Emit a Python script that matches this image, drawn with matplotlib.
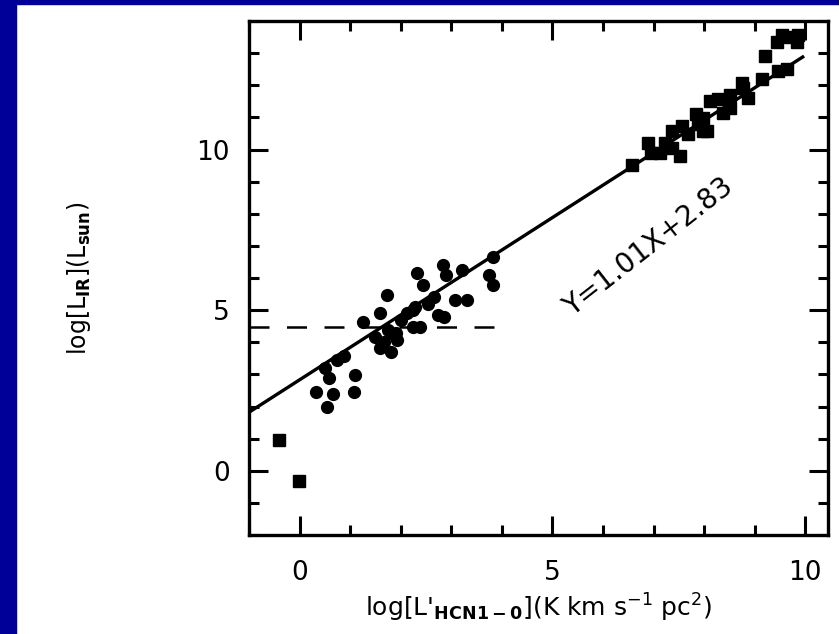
import matplotlib
matplotlib.use("Agg")
import matplotlib.pyplot as plt
from matplotlib.ticker import MultipleLocator
import numpy as np

# Data
circle_x = [0.32, 0.55, 0.67, 0.58, 0.51, 0.75, 0.87, 1.07, 1.10, 1.26, 1.60, 1.72,
            1.50, 1.60, 1.80, 1.74, 1.90, 1.93, 1.66, 2.13, 2.29, 2.33, 2.25, 2.45,
            2.83, 2.89, 3.22, 3.08, 3.32, 2.73, 2.85, 2.39, 2.53, 2.65, 2.25, 3.83,
            3.74, 3.83, 2.00, 1.80]
circle_y = [2.46, 1.97, 2.40, 2.90, 3.20, 3.45, 3.58, 2.46, 2.99, 4.63, 4.90, 5.46,
            4.17, 3.82, 3.70, 4.38, 4.28, 4.07, 4.00, 4.90, 5.10, 6.15, 4.47, 5.77,
            6.39, 6.08, 6.24, 5.31, 5.31, 4.85, 4.78, 4.47, 5.20, 5.40, 5.00, 6.64,
            6.08, 5.77, 4.70, 4.28]

square_x = [-0.41, -0.02, 6.58, 6.90, 6.94, 7.13, 7.23, 7.37, 7.57, 7.69, 7.92, 7.98,
            7.37, 7.53, 7.83, 7.87, 7.98, 8.06, 8.12, 8.28, 8.52, 8.75, 8.87, 8.38,
            8.52, 8.77, 9.15, 9.47, 9.64, 9.21, 9.45, 9.55, 9.70, 9.84, 9.86]
square_y = [0.97, -0.33, 9.52, 10.20, 9.90, 9.90, 10.20, 10.57, 10.73, 10.48, 10.94, 10.57,
            10.05, 9.80, 11.10, 10.79, 10.97, 10.57, 11.50, 11.56, 11.70, 12.06, 11.60, 11.13,
            11.28, 11.90, 12.20, 12.43, 12.52, 12.90, 13.36, 13.57, 13.50, 13.36, 13.57]

fit_slope = 1.01
fit_intercept = 2.83
fit_x = [-1.0, 9.95]
dash_y = 4.47
dash_x = [-1.0, 4.0]

xticks = [0, 5, 10]
yticks = [0, 5, 10]

fig = plt.figure(figsize=(8.39, 6.34), dpi=100)
fig.patch.set_facecolor("white")

# navy frame on left and top
fig.add_artist(plt.Rectangle((0, 0), 16 / 839, 1, transform=fig.transFigure,
                             color="#000099", zorder=0))
fig.add_artist(plt.Rectangle((0, 1 - 4 / 634), 1, 4 / 634, transform=fig.transFigure,
                             color="#000099", zorder=0))

ax = fig.add_axes([249 / 839, 1 - 535 / 634, (828 - 249) / 839, (535 - 21) / 634])
ax.set_xlim(-1, 10.45)
ax.set_ylim(-2, 14)

fx = np.array(fit_x)
ax.plot(fx, fit_slope * fx + fit_intercept, color="black", lw=2.4, zorder=3)
ax.plot(dash_x, [dash_y, dash_y], color="black", lw=1.8, dashes=(8, 7), zorder=2)

ax.plot(circle_x, circle_y, "o", color="black", ms=8.5, zorder=4)
ax.plot(square_x, square_y, "s", color="black", ms=8.5, zorder=4)

ax.text(6.9, 6.95, "Y=1.01X+2.83", rotation=38, ha="center", va="center",
        fontsize=20, color="black")

ax.set_xticks(xticks)
ax.set_yticks(yticks)
ax.xaxis.set_minor_locator(MultipleLocator(1))
ax.yaxis.set_minor_locator(MultipleLocator(1))
ax.tick_params(which="both", direction="in", top=True, right=True, width=2.2,
               labelsize=19, color="black")
ax.tick_params(which="major", length=14)
ax.tick_params(which="minor", length=7)
ax.tick_params(axis="x", which="major", pad=18)
ax.tick_params(axis="y", which="major", pad=14)
for sp in ax.spines.values():
    sp.set_linewidth(2.4)

ax.set_xlabel(r"log[L'$_{\mathbf{HCN1-0}}$](K km s$^{-1}$ pc$^{2}$)", fontsize=18, labelpad=4)
ax.set_ylabel(r"log[L$_{\mathbf{IR}}$](L$_{\mathbf{sun}}$)", fontsize=17, labelpad=74)

fig.savefig("out.png", dpi=100)
